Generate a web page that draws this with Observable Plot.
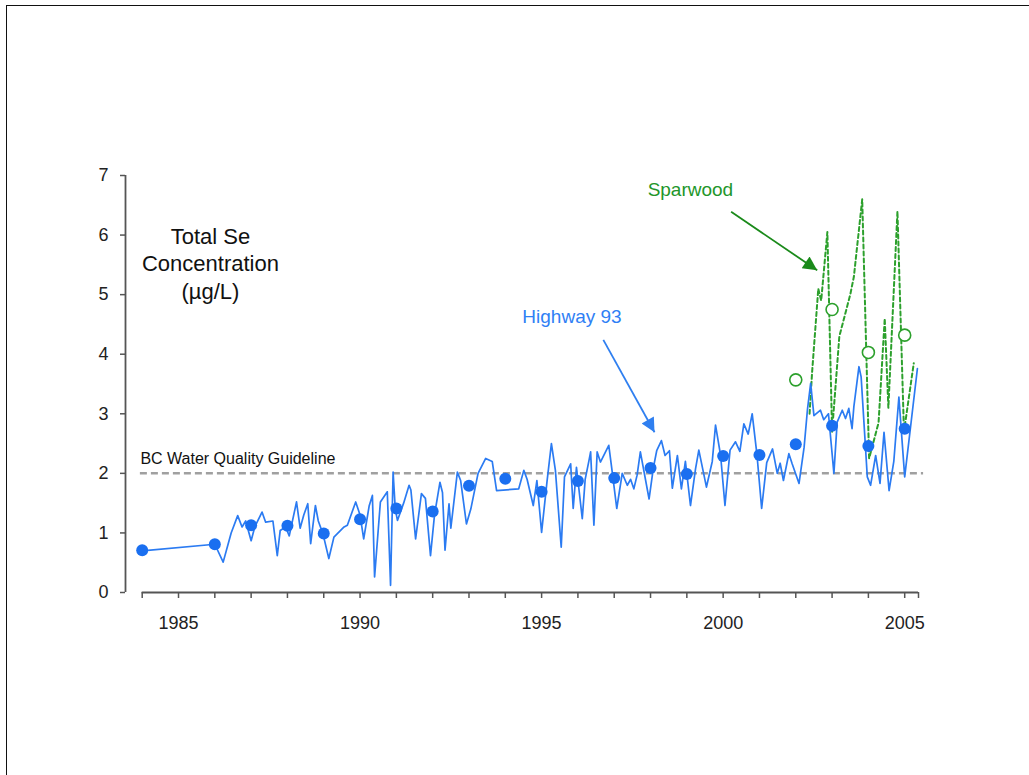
<!DOCTYPE html>
<html>
<head>
<meta charset="utf-8">
<script src="https://cdn.jsdelivr.net/npm/d3@7"></script>
<script src="https://cdn.jsdelivr.net/npm/@observablehq/plot@0.6"></script>
<style>
  html, body { margin: 0; padding: 0; background: #fff; }
  #wrap { position: relative; width: 1029px; height: 775px; overflow: hidden; }
  #border { position: absolute; left: 6px; top: 5px; width: 1100px; height: 900px;
            border-left: 1.5px solid #111; border-top: 1.5px solid #111; box-sizing: border-box; }
  #chart { position: absolute; left: 0; top: 0; }
</style>
</head>
<body>
<div id="wrap"><div id="border"></div><div id="chart"></div></div>
<script>
// ---- Highway 93 monthly-ish samples (decimal year, µg/L)
const hwyYear = [
  1984.00, 1986.00, 1986.23, 1986.45, 1986.63, 1986.75, 1986.85, 1987.00, 1987.10, 1987.30,
  1987.40, 1987.60, 1987.72, 1987.80, 1987.95, 1988.05, 1988.25, 1988.35, 1988.45, 1988.56,
  1988.64, 1988.77, 1988.85, 1988.98, 1989.14, 1989.28, 1989.56, 1989.65, 1989.88, 1990.00,
  1990.10, 1990.25, 1990.34, 1990.40, 1990.56, 1990.75, 1990.84, 1990.91, 1990.97, 1991.03,
  1991.20, 1991.35, 1991.40, 1991.53, 1991.69, 1991.80, 1991.94, 1992.05, 1992.20, 1992.27,
  1992.34, 1992.45, 1992.50, 1992.68, 1992.77, 1992.93, 1993.05, 1993.25, 1993.46, 1993.64,
  1993.76, 1994.37, 1994.51, 1994.60, 1994.77, 1994.87, 1995.00, 1995.15, 1995.27, 1995.38,
  1995.54, 1995.63, 1995.80, 1995.87, 1995.96, 1996.12, 1996.20, 1996.30, 1996.35, 1996.44,
  1996.53, 1996.62, 1996.85, 1996.95, 1997.07, 1997.22, 1997.36, 1997.45, 1997.54, 1997.63,
  1997.72, 1997.96, 1998.08, 1998.17, 1998.30, 1998.40, 1998.52, 1998.60, 1998.74, 1998.85,
  1998.96, 1999.10, 1999.24, 1999.33, 1999.54, 1999.70, 1999.79, 1999.93, 2000.05, 2000.19,
  2000.34, 2000.46, 2000.57, 2000.69, 2000.80, 2000.93, 2001.06, 2001.20, 2001.36, 2001.49,
  2001.57, 2001.66, 2001.81, 2001.90, 2002.09, 2002.23, 2002.32, 2002.41, 2002.50, 2002.68,
  2002.77, 2002.90, 2003.05, 2003.14, 2003.28, 2003.37, 2003.46, 2003.55, 2003.60, 2003.74,
  2003.80, 2003.97, 2004.06, 2004.20, 2004.32, 2004.43, 2004.57, 2004.70, 2004.84, 2005.00,
  2005.35
];
const hwyValue = [
  0.70, 0.81, 0.51, 1.00, 1.29, 1.10, 1.20, 0.87, 1.10, 1.35,
  1.18, 1.20, 0.62, 1.04, 1.10, 0.95, 1.52, 1.08, 1.30, 1.49,
  0.82, 1.46, 1.20, 0.98, 0.57, 0.93, 1.10, 1.13, 1.52, 1.30,
  0.90, 1.45, 1.63, 0.26, 1.52, 1.69, 0.12, 2.02, 1.40, 1.21,
  1.50, 1.80, 1.72, 0.90, 1.66, 1.58, 0.62, 1.30, 1.85, 1.68,
  0.71, 1.49, 1.08, 2.02, 1.88, 1.15, 1.40, 2.00, 2.25, 2.20,
  1.71, 1.74, 2.05, 1.90, 1.46, 1.88, 1.01, 1.87, 2.50, 2.05,
  0.76, 1.94, 2.16, 1.41, 2.10, 1.24, 1.90, 2.20, 2.36, 1.13,
  2.36, 2.19, 2.47, 2.00, 1.41, 2.00, 1.80, 1.90, 1.74, 1.97,
  2.36, 1.57, 2.10, 2.38, 2.55, 2.30, 2.38, 1.75, 2.30, 1.74,
  2.20, 1.46, 2.08, 2.39, 1.77, 2.20, 2.81, 2.30, 1.46, 2.39,
  2.53, 2.37, 2.83, 2.66, 3.00, 2.32, 1.41, 2.18, 2.41, 2.00,
  2.17, 1.88, 2.33, 2.16, 1.83, 2.44, 3.06, 3.51, 2.97, 3.06,
  2.90, 3.00, 2.00, 2.86, 3.06, 2.92, 3.09, 2.75, 3.12, 3.79,
  3.62, 1.94, 1.80, 2.30, 1.83, 2.69, 1.71, 2.20, 3.28, 1.94,
  3.76
];
// ---- Highway 93 annual means
const hwyMeanYear = [1984, 1986, 1987, 1988, 1989, 1990, 1991, 1992, 1993, 1994, 1995,
                     1996, 1997, 1998, 1999, 2000, 2001, 2002, 2003, 2004, 2005];
const hwyMean = [0.71, 0.81, 1.13, 1.12, 0.99, 1.23, 1.41, 1.36, 1.79, 1.91, 1.69,
                 1.87, 1.92, 2.09, 1.99, 2.29, 2.31, 2.49, 2.80, 2.46, 2.75];
// ---- Sparwood samples and annual means
const spwYear = [2002.38, 2002.45, 2002.62, 2002.70, 2002.87, 2003.00, 2003.20, 2003.50,
                 2003.60, 2003.83, 2004.02, 2004.28, 2004.45, 2004.55, 2004.80, 2004.98, 2005.25];
const spwValue = [3.00, 3.70, 5.10, 4.90, 6.05, 2.70, 4.30, 5.00,
                  5.30, 6.60, 2.25, 2.85, 4.60, 3.10, 6.40, 2.70, 3.85];
const spwMeanYear = [2002, 2003, 2004, 2005];
const spwMean = [3.57, 4.75, 4.03, 4.32];

// ---- axes
const xDomain = [1983.54, 2005.38];
const yTicks = [0, 1, 2, 3, 4, 5, 6, 7];
const xTicks = [1984, 1985, 1986, 1987, 1988, 1989, 1990, 1991, 1992, 1993, 1994,
                1995, 1996, 1997, 1998, 1999, 2000, 2001, 2002, 2003, 2004, 2005, 2005.38];
const xLabelYears = [1985, 1990, 1995, 2000, 2005];
const guideline = 2;
const guideExtent = [1983.95, 2005.52];

// ---- annotations (data coordinates)
const noteText = ["Total Se\nConcentration\n(µg/L)", "BC Water Quality Guideline", "Highway 93", "Sparwood"];
const noteX = [1985.88, 1983.95, 1994.47, 1997.92];
const noteY = [5.54, 2.24, 4.62, 6.76];
const arrowX1 = [1996.70, 2000.22];
const arrowY1 = [4.24, 6.39];
const arrowX2 = [1998.11, 2002.59];
const arrowY2 = [2.69, 5.41];

const hwy = hwyYear.map((x, i) => ({x, y: hwyValue[i]}));
const hwyM = hwyMeanYear.map((x, i) => ({x, y: hwyMean[i]}));
const spw = spwYear.map((x, i) => ({x, y: spwValue[i]}));
const spwM = spwMeanYear.map((x, i) => ({x, y: spwMean[i]}));
const arrows = arrowX1.map((x1, i) => ({x1, y1: arrowY1[i], x2: arrowX2[i], y2: arrowY2[i]}));

const blue = "#2b7bf2", dotBlue = "#1a6ff0", green = "#2ca02c";
const arrowColors = ["#2f7ff0", "#1a8a1a"];
const font = "'Liberation Sans', Arial, sans-serif";

const plot = Plot.plot({
  width: 1029,
  height: 775,
  marginLeft: 125,
  marginRight: 111,
  marginTop: 175,
  marginBottom: 183,
  style: {fontFamily: font, fontSize: "18px", color: "#222", background: "transparent"},
  x: {domain: xDomain},
  y: {domain: [0, 7]},
  marks: [
    Plot.ruleY([guideline], {x1: guideExtent[0], x2: guideExtent[1], stroke: "#a0a0a0", strokeWidth: 2.5, strokeDasharray: "7,4"}),
    Plot.line(spw, {x: "x", y: "y", stroke: green, strokeWidth: 2, strokeDasharray: "4,3"}),
    Plot.line(hwy, {x: "x", y: "y", stroke: blue, strokeWidth: 1.7}),
    Plot.dot(hwyM, {x: "x", y: "y", r: 6, fill: dotBlue}),
    Plot.dot(spwM, {x: "x", y: "y", r: 6, stroke: green, strokeWidth: 1.6, fill: "white"}),
    Plot.ruleX([xDomain[0]], {y1: 0, y2: 7, stroke: "#555", strokeWidth: 1.8}),
    Plot.ruleY([0], {x1: 1984, x2: xDomain[1], stroke: "#555", strokeWidth: 1.8}),
    Plot.axisY({ticks: yTicks, tickSize: 5, tickPadding: 12, stroke: "#555", strokeWidth: 1.5, label: null, fill: "#222",
                tickFormat: d => String(d)}),
    Plot.axisX({ticks: xTicks, tickSize: 6, tickPadding: 18, stroke: "#555", strokeWidth: 1.5, label: null, fill: "#222",
                tickFormat: d => xLabelYears.includes(d) ? String(d) : ""}),
    Plot.text([0], {x: noteX[0], y: noteY[0], text: [noteText[0]], fontSize: 22, lineHeight: 1.25, fill: "#111", textAnchor: "middle"}),
    Plot.text([0], {x: noteX[1], y: noteY[1], text: [noteText[1]], fontSize: 16, fill: "#111", textAnchor: "start", fontWeight: 500}),
    Plot.text([0], {x: noteX[2], y: noteY[2], text: [noteText[2]], fontSize: 19, fill: "#2f80f5", textAnchor: "start"}),
    Plot.text([0], {x: noteX[3], y: noteY[3], text: [noteText[3]], fontSize: 19, fill: "#22962a", textAnchor: "start"}),
    Plot.link(arrows, {x1: "x1", y1: "y1", x2: "x2", y2: "y2", stroke: (d, i) => arrowColors[i], strokeWidth: 1.8})
  ]
});

// filled triangular arrowheads
const svg = d3.select(plot);
const defs = svg.insert("defs", ":first-child");
arrowColors.forEach((c, i) => {
  defs.append("marker").attr("id", "mk-" + i).attr("viewBox", "0 0 10 10")
    .attr("refX", 10).attr("refY", 5).attr("markerWidth", 17).attr("markerHeight", 14)
    .attr("markerUnits", "userSpaceOnUse").attr("orient", "auto")
    .append("path").attr("d", "M0,0L10,5L0,10Z").attr("fill", c);
});
svg.selectAll('g[aria-label="link"] path').each(function(d, i) {
  d3.select(this).attr("marker-end", "url(#mk-" + i + ")");
});

document.getElementById("chart").appendChild(plot);
</script>
</body>
</html>
